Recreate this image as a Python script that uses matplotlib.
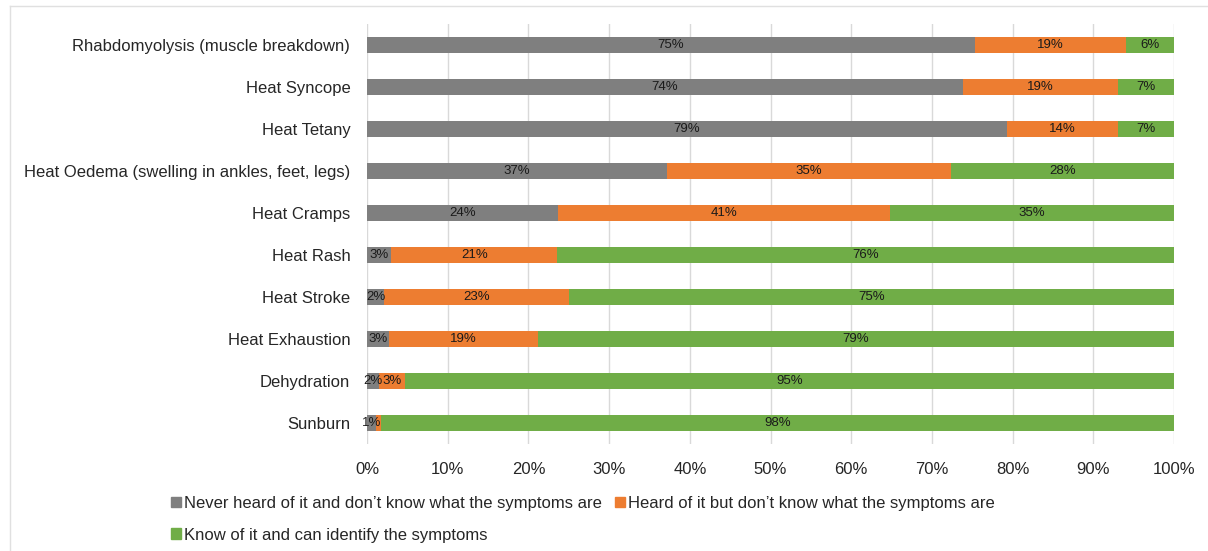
import numpy as np
import matplotlib
matplotlib.use("Agg")
import matplotlib.pyplot as plt
from matplotlib.patches import Rectangle
from matplotlib.lines import Line2D

plt.rcParams['font.family'] = ['Liberation Sans', 'DejaVu Sans']

categories = ["Rhabdomyolysis (muscle breakdown)", "Heat Syncope", "Heat Tetany",
              "Heat Oedema (swelling in ankles, feet, legs)", "Heat Cramps", "Heat Rash",
              "Heat Stroke", "Heat Exhaustion", "Dehydration", "Sunburn"]

# shares in percent
never = [75.3, 73.8, 79.3, 37.2, 23.7, 3.0, 2.1, 2.7, 1.5, 1.1]
heard = [18.7, 19.2, 13.7, 35.2, 41.1, 20.6, 22.9, 18.5, 3.2, 0.6]
know = [6.0, 7.0, 7.0, 27.6, 35.2, 76.4, 75.0, 78.8, 95.3, 98.3]

never_lbl = ["75%", "74%", "79%", "37%", "24%", "3%", "2%", "3%", "2%", "1%"]
heard_lbl = ["19%", "19%", "14%", "35%", "41%", "21%", "23%", "19%", "3%", ""]
know_lbl = ["6%", "7%", "7%", "28%", "35%", "76%", "75%", "79%", "95%", "98%"]

series_names = ["Never heard of it and don\u2019t know what the symptoms are",
                "Heard of it but don\u2019t know what the symptoms are",
                "Know of it and can identify the symptoms"]
colors = ["#7f7f7f", "#ed7d31", "#70ad47"]

fig = plt.figure(figsize=(12.08, 5.51), dpi=100)
ax = fig.add_axes([0.3038, 0.1942, 0.6681, 0.7622])

y = np.arange(len(categories))
left = np.zeros(len(categories))
for vals, lbls, c in zip([never, heard, know], [never_lbl, heard_lbl, know_lbl], colors):
    vals = np.array(vals)
    ax.barh(y, vals, left=left, height=0.4, color=c, zorder=3)
    for yi, l0, v, t in zip(y, left, vals, lbls):
        if t:
            ax.text(l0 + v / 2, yi, t, ha='center', va='center', fontsize=9.5,
                    color='#1a1a1a', zorder=4)
    left = left + vals

ax.set_xlim(0, 100)
ax.set_ylim(len(categories) - 0.5, -0.5)
ax.set_yticks(y)
ax.set_yticklabels(categories, fontsize=12, color='#262626')
ax.set_xticks(np.arange(0, 101, 10))
ax.set_xticklabels([f"{v}%" for v in range(0, 101, 10)], fontsize=12, color='#262626')
ax.tick_params(length=0, axis='x', pad=13)
ax.tick_params(length=0, axis='y', pad=12)
ax.grid(axis='x', color='#d9d9d9', linewidth=1, zorder=0)
for s in ax.spines.values():
    s.set_visible(False)

order = [0, 2, 1]
handles = [Rectangle((0, 0), 1, 1, color=colors[i]) for i in order]
labels = [series_names[i] for i in order]
fig.legend(handles, labels, ncol=2, loc='upper left', bbox_to_anchor=(0.1416, 0.100),
           frameon=False, fontsize=12, handlelength=0.62, handleheight=0.62,
           handletextpad=0.18, columnspacing=0.75, labelspacing=1.0, borderaxespad=0,
           borderpad=0, labelcolor='#262626')

# thin frame on the top and left edges only
fig.add_artist(Line2D([10 / 1208, 1], [1 - 6 / 551, 1 - 6 / 551], transform=fig.transFigure,
                      color='#e0e0e0', linewidth=1))
fig.add_artist(Line2D([10 / 1208, 10 / 1208], [0, 1 - 6 / 551], transform=fig.transFigure,
                      color='#e0e0e0', linewidth=1))

fig.savefig("out.png", dpi=100, facecolor='white')
